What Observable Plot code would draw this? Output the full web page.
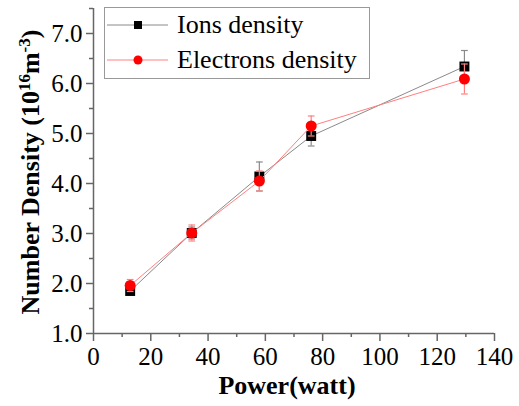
<!DOCTYPE html>
<html>
<head>
<meta charset="utf-8">
<script src="https://cdn.jsdelivr.net/npm/d3@7"></script>
<script src="https://cdn.jsdelivr.net/npm/@observablehq/plot@0.6"></script>
<style>
  html, body { margin: 0; padding: 0; background: white; }
  #chart svg { display: block; }
  #chart svg text, #chart svg tspan { font-family: "Liberation Serif", "Times New Roman", serif !important; }
</style>
</head>
<body>
<div id="chart"></div>
<script>
// ---- data ----
const power = [12.8, 34.3, 57.9, 76.0, 129.5];
const ionsDensity = [1.85, 3.01, 4.14, 4.95, 6.34];
const ionsError = [0.06, 0.12, 0.29, 0.20, 0.32];
const electronsDensity = [1.96, 3.01, 4.05, 5.15, 6.09];
const electronsError = [0.12, 0.16, 0.20, 0.20, 0.30];
const seriesNames = ["Ions density", "Electrons density"];
const xTicks = [0, 20, 40, 60, 80, 100, 120, 140];
const xMinorTicks = [10, 30, 50, 70, 90, 110, 130];
const yTicks = [1, 2, 3, 4, 5, 6, 7];
const yMinorTicks = [1.5, 2.5, 3.5, 4.5, 5.5, 6.5, 7.5];
const xLabel = "Power(watt)";

const ions = power.map((p, i) => ({x: p, y: ionsDensity[i], e: ionsError[i]}));
const electrons = power.map((p, i) => ({x: p, y: electronsDensity[i], e: electronsError[i]}));

const FONT = '"Liberation Serif", "Times New Roman", serif';
const AXIS = "#666";
const ION_LINE = "#8a8a8a";
const EL_LINE = "#ff8080";

const capSymbol = {
  draw(context, size) {
    const w = Math.sqrt(size) / 2;
    context.moveTo(-w, 0);
    context.lineTo(w, 0);
  }
};

function seriesMarks(data, lineColor, symbol, r, fill) {
  return [
    Plot.line(data, {x: "x", y: "y", stroke: lineColor, strokeWidth: 1}),
    Plot.ruleX(data, {x: "x", y1: d => d.y - d.e, y2: d => d.y + d.e, stroke: lineColor, strokeWidth: 1.2}),
    Plot.dot(data, {x: "x", y: d => d.y - d.e, symbol: capSymbol, r: 3.8, stroke: lineColor, strokeWidth: 1.2}),
    Plot.dot(data, {x: "x", y: d => d.y + d.e, symbol: capSymbol, r: 3.8, stroke: lineColor, strokeWidth: 1.2}),
    Plot.dot(data, {x: "x", y: "y", symbol, r, fill, stroke: "none"})
  ];
}

const chart = Plot.plot({
  width: 519,
  height: 406,
  marginLeft: 93,
  marginRight: 25,
  marginTop: 8,
  marginBottom: 73,
  x: {domain: [0, 140]},
  y: {domain: [1, 7.5]},
  style: {fontSize: "25px", color: "black", background: "white"},
  marks: [
    Plot.axisX({ticks: xTicks, tickSize: 8, tickPadding: 6, stroke: AXIS, strokeWidth: 1.5, fill: "black", label: null, fontSize: 25, fontFamily: FONT}),
    Plot.axisX({ticks: xMinorTicks, tickSize: 4, text: null, stroke: AXIS, strokeWidth: 1.5, label: null}),
    Plot.axisY({ticks: yTicks, tickSize: 7, tickPadding: 4, tickFormat: d => d.toFixed(1), stroke: AXIS, strokeWidth: 1.5, fill: "black", label: null, fontSize: 25, fontFamily: FONT}),
    Plot.axisY({ticks: yMinorTicks, tickSize: 4, text: null, stroke: AXIS, strokeWidth: 1.5, label: null}),
    Plot.ruleX([0], {stroke: AXIS, strokeWidth: 1.5}),
    Plot.ruleY([1], {stroke: AXIS, strokeWidth: 1.5}),
    ...seriesMarks(ions, ION_LINE, "square", 5.6, "#000"),
    ...seriesMarks(electrons, EL_LINE, "circle", 5.5, "#ff0000")
  ]
});

document.getElementById("chart").appendChild(chart);

// ---- axis titles and legend added to the same SVG ----
const svg = d3.select(chart);
svg.style("font-family", FONT);

svg.append("text")
  .attr("x", 287).attr("y", 394)
  .style("text-anchor", "middle")
  .style("font-size", "26px").style("font-weight", "bold")
  .text(xLabel);

const yl = svg.append("text")
  .attr("transform", "translate(39,172) rotate(-90)")
  .style("text-anchor", "middle")
  .style("font-size", "26px").style("font-weight", "bold");
yl.append("tspan").text("Number Density (10");
yl.append("tspan").style("font-size", "17px").attr("baseline-shift", "9").text("16");
yl.append("tspan").text("m");
yl.append("tspan").style("font-size", "17px").attr("baseline-shift", "9").text("-3");
yl.append("tspan").text(")");

const lg = svg.append("g");
lg.append("rect").attr("x", 104.5).attr("y", 7.5).attr("width", 265).attr("height", 71)
  .attr("fill", "white").attr("stroke", "#999").attr("stroke-width", 1);
const rows = [
  {name: seriesNames[0], color: ION_LINE, y: 25, type: "square", fill: "#000"},
  {name: seriesNames[1], color: EL_LINE, y: 60, type: "circle", fill: "#ff0000"}
];
rows.forEach(r => {
  lg.append("line").attr("x1", 107).attr("x2", 168).attr("y1", r.y).attr("y2", r.y)
    .attr("stroke", r.color).attr("stroke-width", 1);
  if (r.type === "square") {
    lg.append("rect").attr("x", 134).attr("y", r.y - 4).attr("width", 8).attr("height", 8).attr("fill", r.fill);
  } else {
    lg.append("circle").attr("cx", 138).attr("cy", r.y).attr("r", 4.5).attr("fill", r.fill);
  }
  lg.append("text").attr("x", 177).attr("y", r.y + 8)
    .style("text-anchor", "start")
    .style("font-size", "26px")
    .text(r.name);
});

svg.selectAll("text").style("font-family", FONT);
</script>
</body>
</html>
